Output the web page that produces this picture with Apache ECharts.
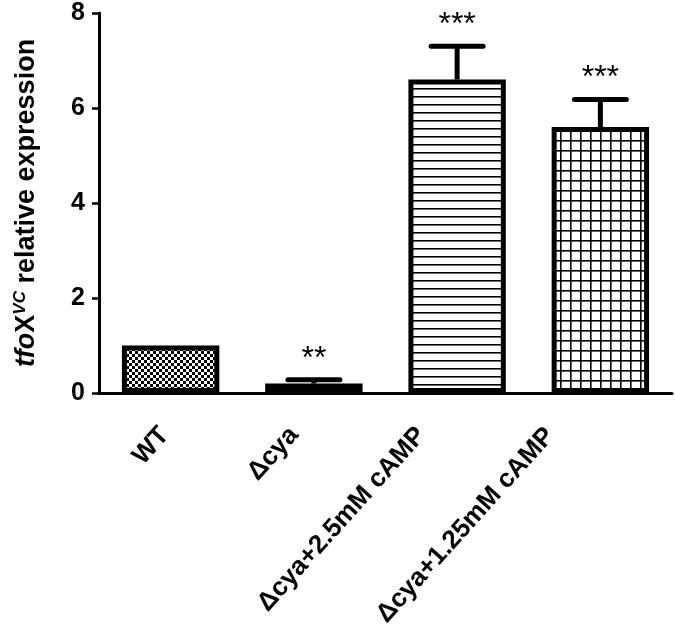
<!DOCTYPE html>
<html>
<head>
<meta charset="utf-8">
<script src="https://cdn.jsdelivr.net/npm/echarts@6/dist/echarts.min.js"></script>
<style>
  html, body { margin: 0; padding: 0; background: #fff; }
  #chart { width: 675px; height: 635px; }
</style>
</head>
<body>
<div id="chart"></div>
<script>
// data
const groups = ['WT', 'Δcya', 'Δcya+2.5mM cAMP', 'Δcya+1.25mM cAMP']
const meanExpr = [1.0, 0.2, 6.6, 5.6]
const upperExpr = [1.0, 0.28, 7.3, 6.18]
const stars = ['', '**', '***', '***']
const yTicks = [0, 2, 4, 6, 8]

const FONT = 'Arial, "Liberation Sans", sans-serif'

// fill patterns for the bars
function makePattern(w, h, draw) {
  const c = document.createElement('canvas')
  c.width = w
  c.height = h
  const ctx = c.getContext('2d')
  ctx.fillStyle = '#fff'
  ctx.fillRect(0, 0, w, h)
  ctx.fillStyle = '#000'
  draw(ctx)
  return { image: c, repeat: 'repeat' }
}

const dotPattern = makePattern(6, 6, ctx => {
  ctx.fillRect(0, 0, 3, 3)
  ctx.fillRect(3, 3, 3, 3)
})
const checkPattern = makePattern(16, 8, ctx => {
  ctx.fillRect(0, 0, 8, 3)
  ctx.fillRect(8, 4, 8, 3)
})
const hLinePattern = makePattern(8, 8, ctx => {
  ctx.fillRect(0, 0, 8, 1.6)
})
const gridPattern = makePattern(10, 10, ctx => {
  ctx.fillRect(0, 0, 10, 1.6)
  ctx.fillRect(0, 0, 1.6, 10)
})
const fills = [dotPattern, checkPattern, hLinePattern, gridPattern]

// Prism-style label placement: longer labels sit further left of their tick
const labelShift = [6, 20, 36, 50]
const labelRich = {}
labelShift.forEach((d, i) => {
  labelRich['l' + i] = {
    fontSize: 26,
    fontWeight: 'bold',
    fontFamily: FONT,
    color: '#000',
    padding: [0, Math.round(d * 0.67), Math.round(d * 1.48), 0]
  }
})

const chart = echarts.init(document.getElementById('chart'))

const option = {
  animation: false,
  backgroundColor: '#fff',
  grid: { left: 99, right: 3, top: 13, bottom: 242 },
  xAxis: {
    type: 'category',
    data: groups,
    axisLine: { lineStyle: { color: '#000', width: 3 } },
    axisTick: { alignWithLabel: true, length: 10, lineStyle: { color: '#000', width: 2.5 } },
    axisLabel: {
      interval: 0,
      rotate: 48,
      margin: 38,
      color: '#000',
      fontSize: 26,
      fontWeight: 'bold',
      fontFamily: FONT,
      formatter: (v, i) => '{l' + i + '|' + v + '}',
      rich: labelRich
    }
  },
  yAxis: {
    type: 'value',
    min: 0,
    max: 8,
    interval: 2,
    splitLine: { show: false },
    axisLine: { show: true, lineStyle: { color: '#000', width: 3 } },
    axisTick: { show: true, length: 7, lineStyle: { color: '#000', width: 2.5 } },
    axisLabel: {
      margin: 14,
      color: '#000',
      fontSize: 25,
      fontWeight: 'bold',
      fontFamily: FONT,
      formatter: v => yTicks.includes(v) ? String(v) : ''
    },
    name: '{it|tfo}{bx|X}{sup|VC}{rg| relative expression}',
    nameLocation: 'middle',
    nameGap: 57,
    nameRotate: 90,
    nameTextStyle: {
      color: '#000',
      fontFamily: FONT,
      rich: {
        it: { fontSize: 27, fontWeight: 'bold', fontStyle: 'italic', fontFamily: FONT, color: '#000' },
        bx: { fontSize: 27, fontWeight: 'bold', fontFamily: FONT, color: '#000' },
        sup: { fontSize: 17, fontWeight: 'bold', fontStyle: 'italic', fontFamily: FONT, color: '#000', verticalAlign: 'top', padding: [0, 0, 13, 0] },
        rg: { fontSize: 27, fontWeight: 'bold', fontFamily: FONT, color: '#000' }
      }
    }
  },
  series: [
    {
      type: 'bar',
      barWidth: '68%',
      data: meanExpr.map((v, i) => ({
        value: v,
        itemStyle: { color: fills[i] }
      })),
      itemStyle: { borderColor: '#000', borderWidth: 5 }
    },
    {
      type: 'custom',
      z: 5,
      data: groups.map((g, i) => [i, meanExpr[i], upperExpr[i]]),
      renderItem: (params, api) => {
        const i = api.value(0)
        const base = api.coord([i, api.value(1)])
        const hi = api.coord([i, api.value(2)])
        const half = 26
        const children = []
        if (api.value(2) > api.value(1)) {
          children.push({
            type: 'line',
            shape: { x1: base[0], y1: base[1], x2: hi[0], y2: hi[1] },
            style: { stroke: '#000', lineWidth: 5 }
          })
          children.push({
            type: 'line',
            shape: { x1: hi[0] - half, y1: hi[1], x2: hi[0] + half, y2: hi[1] },
            style: { stroke: '#000', lineWidth: 5, lineCap: 'round' }
          })
        }
        if (stars[i]) {
          children.push({
            type: 'text',
            style: {
              text: stars[i],
              x: hi[0],
              y: hi[1] - 5,
              align: 'center',
              verticalAlign: 'bottom',
              fontSize: 32,
              fontFamily: FONT,
              fill: '#000'
            }
          })
        }
        return { type: 'group', children }
      }
    }
  ]
}

chart.setOption(option)
</script>
</body>
</html>
